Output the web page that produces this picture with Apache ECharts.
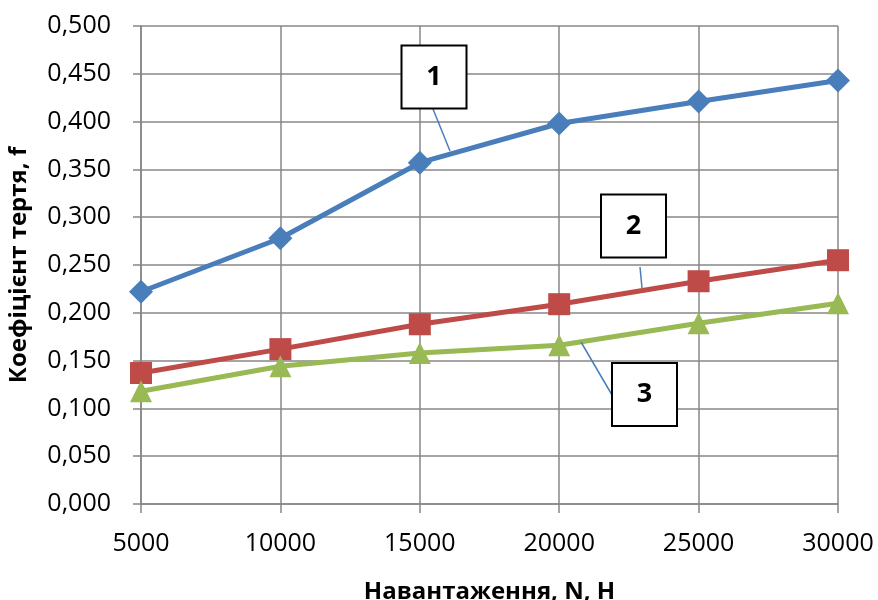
<!DOCTYPE html>
<html><head><meta charset="utf-8">
<script src="https://cdn.jsdelivr.net/npm/echarts@6/dist/echarts.min.js"></script>
<style>html,body{margin:0;padding:0;background:#fff}#c{width:878px;height:600px}</style>
</head><body><div id="c"></div>
<script>
var loads = [5000, 10000, 15000, 20000, 25000, 30000];
var series1 = [0.222, 0.278, 0.357, 0.398, 0.421, 0.443];
var series2 = [0.137, 0.162, 0.188, 0.209, 0.233, 0.255];
var series3 = [0.118, 0.144, 0.158, 0.166, 0.189, 0.210];
var labels = ['1', '2', '3'];
var yAxisName = 'Коефіцієнт тертя, f';
var xAxisName = 'Навантаження, N, Н';

var chart = echarts.init(document.getElementById('c'), null, {renderer: 'canvas'});
function pairs(v){ return loads.map(function(x,i){ return [x, v[i]]; }); }
var gray = '#878787';
var font = 'Open Sans';
function mk(name, data, color, symbol, size){
  return {name:name, type:'line', data:pairs(data), symbol:symbol, symbolSize:size,
    lineStyle:{color:color, width:5}, itemStyle:{color:color}, z:3, animation:false};
}
chart.setOption({
  animation:false,
  grid:{left:141, right:40, top:26, bottom:96, containLabel:false, outerBoundsMode:'none'},
  xAxis:{type:'value', min:5000, max:30000, interval:5000,
    name:xAxisName, nameLocation:'middle', nameGap:76,
    nameTextStyle:{fontFamily:font, fontSize:24, fontWeight:'bold', color:'#000'},
    axisLine:{show:true, lineStyle:{color:gray, width:1.5}},
    axisTick:{show:true, length:9, lineStyle:{color:gray, width:1.5}},
    axisLabel:{fontFamily:font, fontSize:25, color:'#000', margin:27,
      formatter:function(v){ return String(v); }},
    splitLine:{show:true, lineStyle:{color:gray, width:1.5}}},
  yAxis:{type:'value', min:0, max:0.5, interval:0.05,
    name:yAxisName, nameLocation:'middle', nameGap:110, nameRotate:90,
    nameTextStyle:{fontFamily:font, fontSize:24, fontWeight:'bold', color:'#000'},
    axisLine:{show:true, lineStyle:{color:gray, width:1.5}},
    axisTick:{show:true, length:8, lineStyle:{color:gray, width:1.5}},
    axisLabel:{fontFamily:font, fontSize:25, color:'#000', margin:30,
      formatter:function(v){ return v.toFixed(3).replace('.', ','); }},
    splitLine:{show:true, lineStyle:{color:gray, width:1.5}}},
  series:[
    mk('1', series1, '#4A7EBB', 'diamond', 24),
    mk('2', series2, '#BE4B48', 'rect', 22),
    mk('3', series3, '#98B954', 'triangle', 22)
  ]
});

// callout annotations
var boxes = [
  {cx:434, cy:77, line:[[433,109],[450,151]]},
  {cx:633.5, cy:226, line:[[640,267],[642,288]]},
  {cx:644.5, cy:394.5, line:[[612,395],[581,342]]}
];
var g = [];
boxes.forEach(function(b, i){
  g.push({type:'line', shape:{x1:b.line[0][0], y1:b.line[0][1], x2:b.line[1][0], y2:b.line[1][1]},
    style:{stroke:'#4A7EBB', lineWidth:1.5}, z:10});
  g.push({type:'rect', shape:{x:b.cx-32.5, y:b.cy-31.5, width:65, height:63},
    style:{fill:'#fff', stroke:'#000', lineWidth:2}, z:11});
  g.push({type:'text', x:b.cx, y:b.cy, style:{text:labels[i], fontFamily:font, fontSize:27, fontWeight:'bold',
    fill:'#000', align:'center', verticalAlign:'middle'}, z:12});
});
chart.setOption({graphic:g});
</script></body></html>
